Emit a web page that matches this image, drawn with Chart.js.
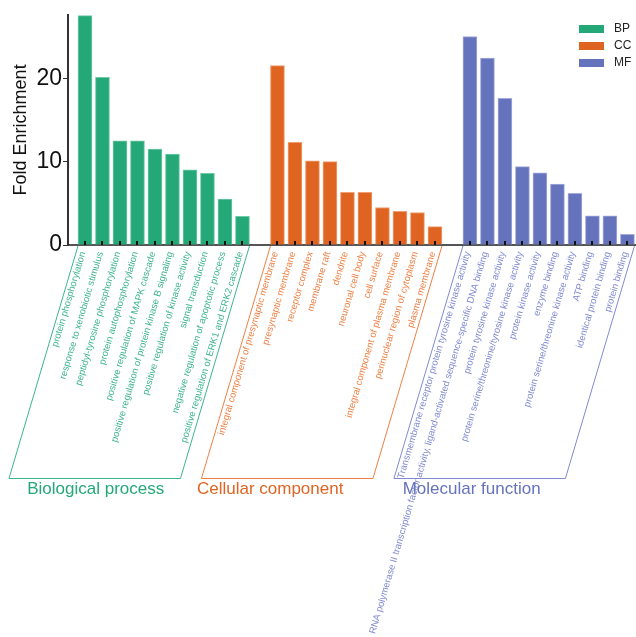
<!DOCTYPE html>
<html>
<head>
<meta charset="utf-8">
<script src="https://cdn.jsdelivr.net/npm/chart.js@4.4.0/dist/chart.umd.min.js"></script>
<style>
  html, body { margin: 0; padding: 0; background: #fff; }
  #wrap { width: 636px; height: 637px; }
</style>
</head>
<body>
<div id="wrap"><canvas id="goChart" width="636" height="637"></canvas></div>
<script>
const bpLabels = [
  'protein phosphorylation',
  'response to xenobiotic stimulus',
  'peptidyl-tyrosine phosphorylation',
  'protein autophosphorylation',
  'positive regulation of MAPK cascade',
  'positive regulation of protein kinase B signaling',
  'positive regulation of kinase activity',
  'signal transduction',
  'negative regulation of apoptotic process',
  'positive regulation of ERK1 and ERK2 cascade'
];
const bpValues = [27.5, 20.1, 12.5, 12.5, 11.5, 10.9, 9.0, 8.6, 5.5, 3.45];

const ccLabels = [
  'integral component of presynaptic membrane',
  'presynaptic membrane',
  'receptor complex',
  'membrane raft',
  'dendrite',
  'neuronal cell body',
  'cell surface',
  'integral component of plasma membrane',
  'perinuclear region of cytoplasm',
  'plasma membrane'
];
const ccValues = [21.5, 12.3, 10.1, 10.0, 6.3, 6.3, 4.5, 4.05, 3.9, 2.2];

const mfLabels = [
  'Transmembrane receptor protein tyrosine kinase activity',
  'RNA polymerase II transcription factor activity, ligand-activated sequence-specific DNA binding',
  'protein tyrosine kinase activity',
  'protein serine/threonine/tyrosine kinase activity',
  'protein kinase activity',
  'enzyme binding',
  'protein serine/threonine kinase activity',
  'ATP binding',
  'identical protein binding',
  'protein binding'
];
const mfValues = [25.0, 22.4, 17.6, 9.4, 8.65, 7.3, 6.2, 3.5, 3.5, 1.27];

const groups = [
  { key: 'BP', title: 'Biological process', labels: bpLabels, values: bpValues, start: 0,
    color: '#24a878', border: '#6fcaa6', text: '#3db58a', titleDx: 1 },
  { key: 'CC', title: 'Cellular component', labels: ccLabels, values: ccValues, start: 11,
    color: '#df6422', border: '#f0a070', text: '#ee8044', titleDx: -17 },
  { key: 'MF', title: 'Molecular function', labels: mfLabels, values: mfValues, start: 22,
    color: '#6572bc', border: '#a3abdc', text: '#7f8ad0', titleDx: -8 }
];

const LABEL_ANGLE = 73.5 * Math.PI / 180;
const FONT = '"Liberation Sans", Arial, sans-serif';

// rotated category labels, brackets, group titles, little ticks and legend
const goDecor = {
  id: 'goDecor',
  afterDraw(chart) {
    const ctx = chart.ctx;
    const xs = chart.scales.x;
    const area = chart.chartArea;
    const half = 7;
    const bottomY = 478;
    const shift = (bottomY - area.bottom) / Math.tan(LABEL_ANGLE);

    groups.forEach(g => {
      // ticks at bar centres
      ctx.save();
      ctx.fillStyle = '#111';
      g.values.forEach((v, j) => {
        const cx = xs.getPixelForValue(g.start + j);
        ctx.fillRect(Math.round(cx) - 1, area.bottom - 4, 2, 4);
      });
      ctx.restore();

      // labels
      ctx.save();
      ctx.fillStyle = g.text;
      ctx.font = '9.5px ' + FONT;
      ctx.textAlign = 'right';
      ctx.textBaseline = 'middle';
      g.labels.forEach((lab, j) => {
        const cx = xs.getPixelForValue(g.start + j);
        ctx.save();
        ctx.translate(cx - 2, area.bottom + 7);
        ctx.rotate(-LABEL_ANGLE);
        ctx.fillText(lab, 0, 0);
        ctx.restore();
      });
      ctx.restore();

      // bracket
      const leftTop = xs.getPixelForValue(g.start) - half;
      const rightTop = xs.getPixelForValue(g.start + g.values.length - 1) + half;
      ctx.save();
      ctx.strokeStyle = g.text;
      ctx.lineWidth = 1;
      ctx.beginPath();
      ctx.moveTo(leftTop, area.bottom + 1);
      ctx.lineTo(leftTop - shift, bottomY + 0.5);
      ctx.lineTo(rightTop - shift, bottomY + 0.5);
      ctx.lineTo(rightTop, area.bottom + 1);
      ctx.stroke();

      ctx.fillStyle = g.color;
      ctx.font = '17px ' + FONT;
      ctx.textAlign = 'center';
      ctx.textBaseline = 'middle';
      ctx.fillText(g.title, (leftTop + rightTop) / 2 - shift + g.titleDx, bottomY + 11);
      ctx.restore();
    });

    // legend
    ctx.save();
    ctx.font = '12px ' + FONT;
    ctx.textBaseline = 'middle';
    ctx.textAlign = 'left';
    groups.forEach((g, i) => {
      const y = 29 + i * 17;
      ctx.fillStyle = g.color;
      ctx.fillRect(579, y - 4, 25, 8);
      ctx.fillStyle = '#222';
      ctx.fillText(g.key, 614, y);
    });
    ctx.restore();
  }
};

const datasets = groups.map(g => ({
  label: g.key,
  data: g.values.map((v, j) => ({ x: g.start + j, y: v })),
  backgroundColor: g.color,
  borderColor: g.border,
  borderWidth: 1,
  barThickness: 14,
  grouped: false
}));

new Chart(document.getElementById('goChart'), {
  type: 'bar',
  data: { datasets },
  options: {
    responsive: false,
    animation: false,
    layout: { padding: { top: 13, right: 0, bottom: 0, left: 0 } },
    plugins: { legend: { display: false }, tooltip: { enabled: false } },
    scales: {
      x: {
        type: 'linear',
        offset: false,
        min: -0.97,
        max: 31.49,
        ticks: { display: false },
        grid: { display: true, drawOnChartArea: false, drawTicks: false },
        border: { display: true, color: '#555', width: 2 },
        afterFit(scale) { scale.height = 392; }
      },
      y: {
        min: 0,
        max: 27.6,
        ticks: {
          stepSize: 10,
          includeBounds: false,
          color: '#111',
          padding: 1,
          font: { family: FONT, size: 23 }
        },
        grid: { display: true, drawOnChartArea: false, drawTicks: true, tickLength: 5, color: '#333' },
        border: { display: true, color: '#333', width: 2 },
        title: {
          display: true,
          text: 'Fold Enrichment',
          color: '#111',
          padding: { top: 10, bottom: 0 },
          font: { family: FONT, size: 18 }
        },
        afterFit(scale) { scale.width = 68; }
      }
    }
  },
  plugins: [goDecor]
});
</script>
</body>
</html>
